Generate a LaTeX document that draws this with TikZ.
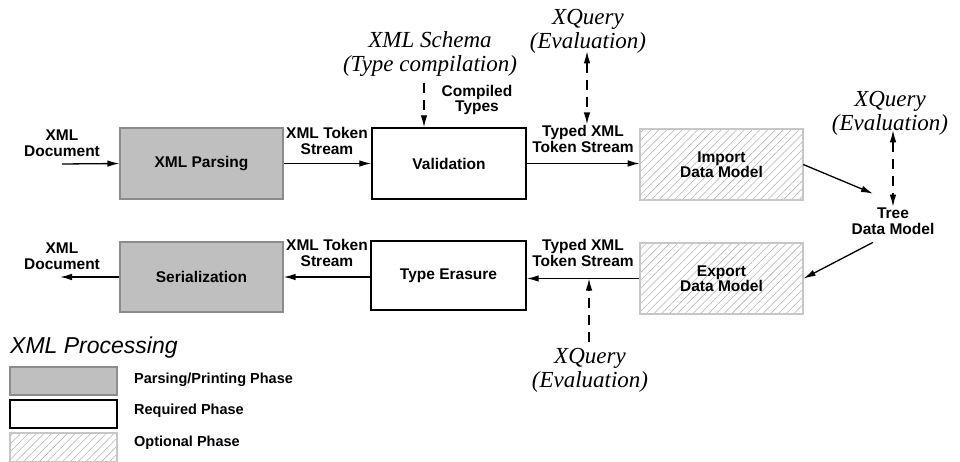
\documentclass[tikz,border=0pt]{standalone}
\usepackage{fontspec}
\setmainfont{Liberation Sans}
\newfontfamily\tms{Liberation Serif}
\usetikzlibrary{arrows.meta,patterns.meta,calc}
\begin{document}
\begin{tikzpicture}[x=1pt,y=-1pt,
  lbl/.style={font=\fontsize{15.5}{15.5}\selectfont\bfseries, align=center, inner sep=1pt},
  leg/.style={font=\fontsize{14.5}{15}\selectfont\bfseries, inner sep=1pt},
  ital/.style={font=\fontsize{23}{24}\selectfont\tms\itshape, align=center, inner sep=1pt},
  boxbase/.style={minimum width=163pt, minimum height=71pt, font=\fontsize{15.5}{15}\selectfont\bfseries, align=center},
  parsebox/.style={boxbase, fill=gray!50, draw=black!45, line width=1.2pt},
  reqbox/.style={boxbase, fill=white, draw=black, line width=1.4pt},
  optbox/.style={boxbase, draw=black!22, line width=1.2pt, pattern={Lines[angle=45,distance=5.5pt,line width=0.55pt]}, pattern color=black!30},
  arr/.style={line width=1.3pt, -{Latex[length=12pt,width=6.5pt]}},
  darr/.style={arr, dash pattern=on 10pt off 7pt},
  darrb/.style={line width=1.3pt, {Latex[length=12pt,width=6.5pt]}-{Latex[length=12pt,width=6.5pt]}, dash pattern=on 10pt off 7pt},
]
\useasboundingbox (0,0) rectangle (960,462);
% boxes
\node[parsebox] (parse) at (201.5,163.5) {XML Parsing};
\node[reqbox, minimum width=154pt] (valid) at (449,163.5) {Validation};
\node[optbox] (import) at (721.5,164.5) {Import\\Data Model};
\node[optbox] (export) at (721.5,278.5) {Export\\Data Model};
\node[parsebox, minimum height=70pt] (serial) at (201.5,277) {Serialization};
\node[reqbox, minimum width=155pt, minimum height=69pt] (erase) at (448.5,275.5) {Type Erasure};
% labels
\node[lbl] (doc1) at (62,143) {XML\\Document};
\node[lbl] (ts1) at (327,141) {XML Token\\Stream};
\node[lbl] (ct) at (477,100) {Compiled\\Types};
\node[lbl] (tts1) at (583,139) {Typed XML\\Token Stream};
\node[lbl] (doc2) at (62,256) {XML\\Document};
\node[lbl] (ts2) at (327,253) {XML Token\\Stream};
\node[lbl] (tts2) at (583,253) {Typed XML\\Token Stream};
\node[lbl] (tree) at (893,221) {Tree\\Data Model};
% italic annotations
\node[ital] (schema) at (430,54) {XML Schema\\(Type compilation)};
\node[ital] (xq1) at (588,31) {XQuery\\(Evaluation)};
\node[ital] (xq2) at (890,113) {XQuery\\(Evaluation)};
\node[ital] (xq3) at (590,370) {XQuery\\(Evaluation)};
% arrows
\coordinate (in1) at (62,164);
\coordinate (out2) at (60,277);
\draw[arr] (in1) -- (parse.west);
\draw[arr] (parse.east) -- (valid.west);
\draw[arr] (valid.east) -- (import.west |- valid.east);
\draw[arr] (import.east) -- ($(tree.north)+(-20,-13)$);
\draw[arr] ($(tree.south)+(-20,7)$) -- (export.east);
\draw[arr] (export.west) -- (erase.east |- export.west);
\draw[arr] (erase.west |- serial.east) -- (serial.east);
\draw[arr] (serial.west) -- (out2);
% dashed arrows
\coordinate (s1) at ($(schema.south)+(-6,5)$);
\draw[darr] (s1) -- (s1 |- valid.north);
\coordinate (q1) at ($(xq1.south)+(-1,-3)$);
\draw[darrb] (q1) -- (q1 |- tts1.north);
\coordinate (q2) at ($(xq2.south)+(3,-6)$);
\draw[darrb] (q2) -- (tree.north);
\coordinate (q3) at ($(xq3.north)+(-1,-5)$);
\draw[darr] (q3) -- (q3 |- export.west);
% legend
\node[font=\fontsize{23}{24}\selectfont\itshape, anchor=west, inner sep=0pt] (title) at (10,348) {XML Processing};
\node[parsebox, minimum width=107pt, minimum height=28pt] (lg1) at (63.5,381) {};
\node[reqbox, minimum width=107pt, minimum height=28pt] (lg2) at (63.5,414) {};
\node[optbox, minimum width=107pt, minimum height=29pt] (lg3) at (63.5,447.5) {};
\node[leg, anchor=west] (lt1) at (133,380) {Parsing/Printing Phase};
\node[leg, anchor=west] (lt2) at (133,411) {Required Phase};
\node[leg, anchor=west] (lt3) at (133,443) {Optional Phase};
\end{tikzpicture}
\end{document}
